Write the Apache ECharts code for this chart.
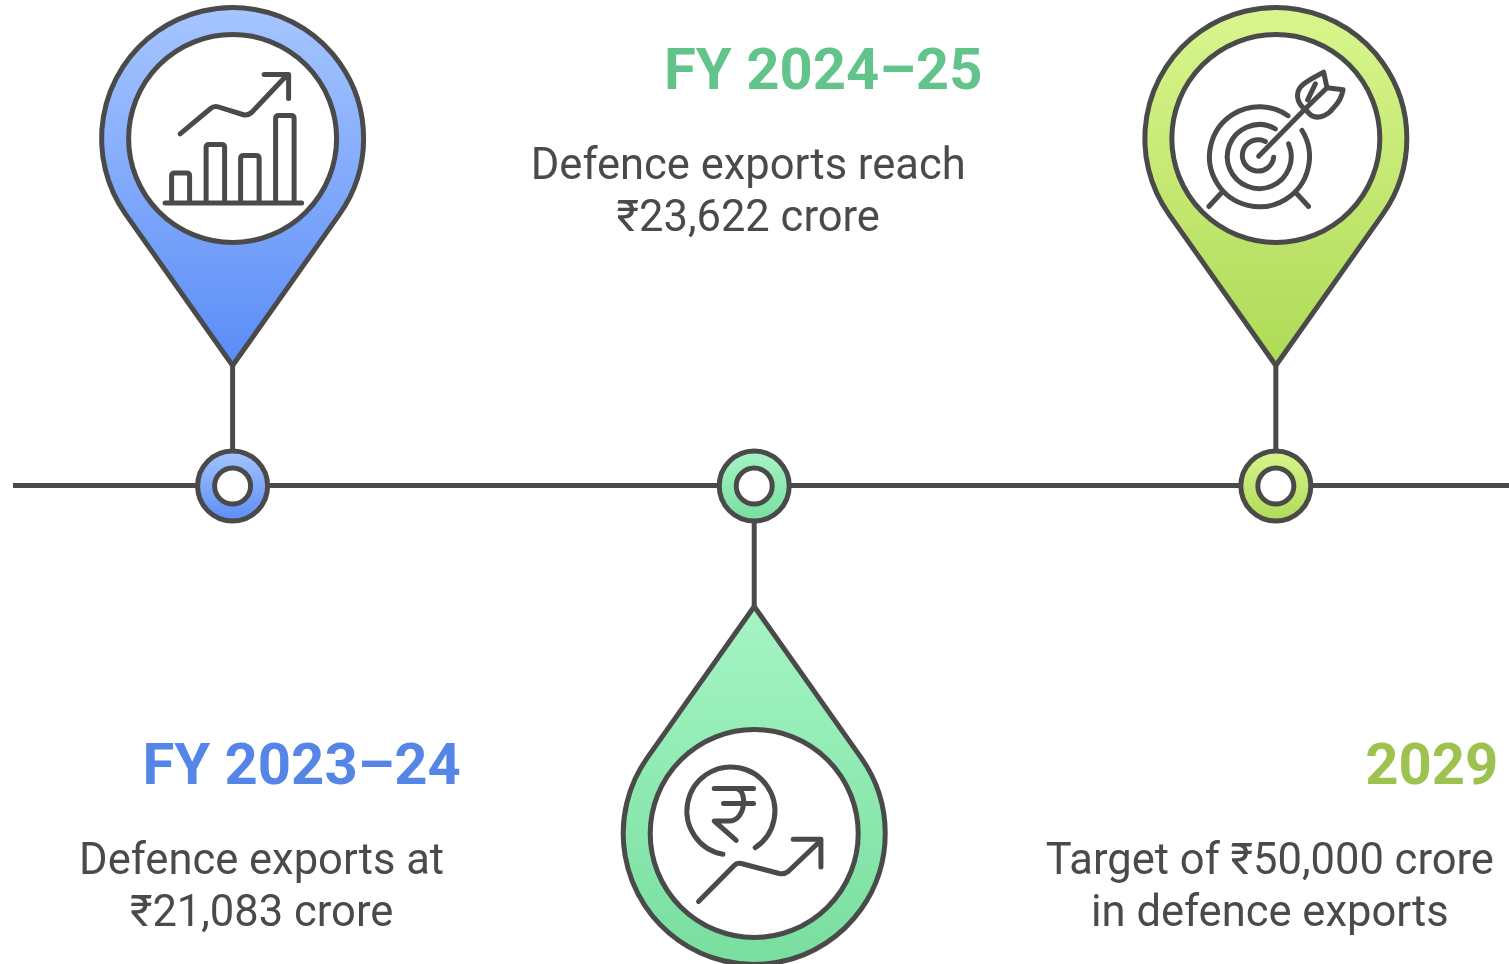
<!DOCTYPE html>
<html>
<head>
<meta charset="utf-8">
<title>Defence exports timeline</title>
<script src="https://cdn.jsdelivr.net/npm/echarts@6/dist/echarts.min.js"></script>
<style>
  html, body { margin: 0; padding: 0; background: #fff; }
  #chart { width: 1509px; height: 964px; }
</style>
</head>
<body>
<div id="chart"></div>
<script>
// data
const periods = ['FY 2023–24', 'FY 2024–25', '2029'];
const exportsCrore = [21083, 23622, 50000];
const rupees = (v) => '₹' + v.toLocaleString('en-US');
const noteLines = [
  ['Defence exports at', rupees(exportsCrore[0]) + ' crore'],
  ['Defence exports reach', rupees(exportsCrore[1]) + ' crore'],
  ['Target of ' + rupees(exportsCrore[2]) + ' crore', 'in defence exports']
];

// look
const ink = '#4a4a4a';
const stroke = 5;
const titleColors = ['#5585e6', '#62c48a', '#9dc24f'];
const fillStops = [['#a6c6ff', '#5a8cf7'], ['#a5f5c5', '#78de9e'], ['#d9f68e', '#aeda56']];
const sides = [-1, 1, -1]; // -1 pin above the line, 1 below
const titleOffset = [[69, 283], [69, -412], [156, 283]];
const noteOffset = [[29, 377], [-6, -318], [-6, 377]];

const pinPath = 'M0,227 L-107,75.6 A131,131 0 1 1 107,75.6 Z';
const flipPinPath = 'M0,-227 L-107,-75.6 A131,131 0 1 0 107,-75.6 Z';

// line icons, drawn around the centre of each pin
const icons = [
  'M-67.5,64.5 L69,64.5 ' +
  'M-61,64 L-61,37.5 Q-61,34.5 -58,34.5 L-46,34.5 Q-43,34.5 -43,37.5 L-43,64 ' +
  'M-26.5,64 L-26.5,9 Q-26.5,6 -23.5,6 L-11,6 Q-8,6 -8,9 L-8,64 ' +
  'M8,64 L8,20 Q8,17 11,17 L23.5,17 Q26.5,17 26.5,20 L26.5,64 ' +
  'M43,64 L43,-20 Q43,-23 46,-23 L58.5,-23 Q61.5,-23 61.5,-20 L61.5,64 ' +
  'M-52.5,-4.7 L-22,-30 Q-18.5,-33 -14,-31.5 L10,-24 Q15,-22.5 19,-26 L54,-63 ' +
  'M31.5,-64 L56,-64 L56,-40',
  'M-31.3,20.8 A44,44 0 1 1 1,14.2 ' +
  'M-40,-45 L-0.7,-45 M-30.7,-30 L-0.7,-30 ' +
  'M-19,-45 C-6,-45 -8,-12.5 -25,-12.5 L-40,-12.5 L-18,6.8 ' +
  'M-55.7,68 L-20,32 Q-17.3,29 -13,30 L25,40 Q30,41 34,38 L66,7.5 ' +
  'M39,5.8 L66.7,5.8 L66.7,33.5',
  'M26.2,-8 A50,50 0 1 1 12.2,-22.8 ' +
  'M12.8,5.4 A32,32 0 1 1 -0.5,-9.6 ' +
  'M-2.2,18.7 A15.7,15.7 0 1 1 -10.5,3 ' +
  'M-17.2,17.7 L29.5,-29.7 ' +
  'M29.5,-29 C22,-34 19,-44 24.5,-51.3 C29,-57 40,-62 47.8,-66.3 L51.2,-50.7 L67.2,-48.7 ' +
  'C66,-42 62,-35 58,-31 C52,-23 44,-20 37.8,-22 C34,-23 32,-26 30,-29 ' +
  'M29.5,-29.7 L51.2,-50.7 M31.8,-38.7 L39.5,-54.7 ' +
  'M-67,68 L-54.8,54.7 M32.8,68 L20.5,54.7'
];

const renderMilestone = (params, api) => {
  const i = params.dataIndex;
  const c = api.coord([api.value(0), 0]);
  const x = c[0];
  const y = c[1] + 0.7; // nodes sit a hair under the line
  const side = sides[i];
  const pinY = y + side * 347.5;
  const stops = fillStops[i];
  const grad = {
    type: 'linear', x: 0, y: 0, x2: 0, y2: 1,
    colorStops: [{ offset: 0, color: stops[0] }, { offset: 1, color: stops[1] }]
  };
  const label = (text, off, fontSize, fontWeight, fill) => ({
    type: 'text',
    x: x + off[0],
    y: y + off[1],
    style: { text, fontFamily: 'Roboto', fontSize, fontWeight, fill, align: 'center', verticalAlign: 'middle' }
  });
  const noteOff = noteOffset[i];
  return {
    type: 'group',
    children: [
      // stem
      {
        type: 'line',
        shape: { x1: x, y1: y, x2: x, y2: y + side * 121 },
        style: { stroke: ink, lineWidth: stroke }
      },
      // node on the timeline
      { type: 'circle', shape: { cx: x, cy: y, r: 35 }, style: { fill: grad, stroke: ink, lineWidth: stroke } },
      { type: 'circle', shape: { cx: x, cy: y, r: 18 }, style: { fill: '#fff', stroke: ink, lineWidth: stroke } },
      // pin
      {
        type: 'path', x: x, y: pinY,
        shape: { pathData: side < 0 ? pinPath : flipPinPath },
        style: { fill: grad, stroke: ink, lineWidth: stroke, lineJoin: 'round' }
      },
      { type: 'circle', shape: { cx: x, cy: pinY, r: 104 }, style: { fill: '#fff', stroke: ink, lineWidth: stroke } },
      {
        type: 'path', x: x, y: pinY,
        shape: { pathData: icons[i] },
        style: { fill: null, stroke: ink, lineWidth: stroke, lineCap: 'round', lineJoin: 'round' }
      },
      label(periods[i], titleOffset[i], 58, 700, titleColors[i]),
      label(noteLines[i][0], noteOff, 43.5, 400, ink),
      label(noteLines[i][1], [noteOff[0], noteOff[1] + 52], 43.5, 400, ink)
    ]
  };
};

const myChart = echarts.init(document.getElementById('chart'));
myChart.setOption({
  animation: false,
  backgroundColor: '#fff',
  grid: { left: 13, right: 0, top: 0, bottom: 0 },
  xAxis: {
    type: 'value',
    min: -0.421,
    max: 2.447,
    axisLine: { show: true, lineStyle: { color: ink, width: stroke, cap: 'butt' } },
    axisTick: { show: false },
    axisLabel: { show: false },
    splitLine: { show: false }
  },
  yAxis: { type: 'value', min: -478.7, max: 485.3, show: false, splitLine: { show: false } },
  series: [
    {
      type: 'custom',
      clip: false,
      renderItem: renderMilestone,
      encode: { x: 0, y: 1 },
      data: periods.map((p, i) => [i, 0, exportsCrore[i]])
    }
  ]
});
</script>
</body>
</html>
